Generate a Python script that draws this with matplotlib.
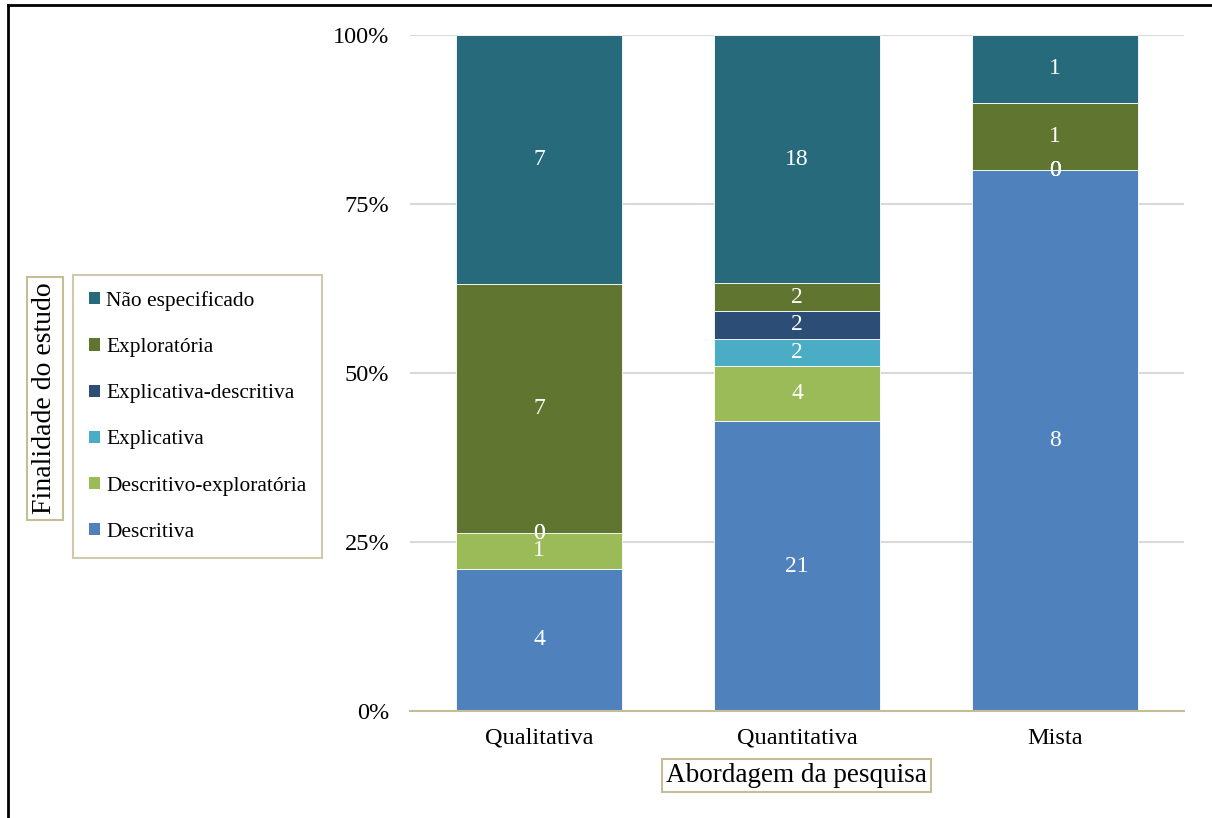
import matplotlib
matplotlib.use("Agg")
import matplotlib.pyplot as plt
from matplotlib.patches import Patch
from matplotlib.lines import Line2D
import numpy as np

plt.rcParams['font.family'] = ['Liberation Serif', 'DejaVu Serif']

categories = ["Qualitativa", "Quantitativa", "Mista"]
series_names = ["Descritiva", "Descritivo-exploratória", "Explicativa",
                "Explicativa-descritiva", "Exploratória", "Não especificado"]
descritiva = [4, 21, 8]
descritivo_exploratoria = [1, 4, 0]
explicativa = [0, 2, 0]
explicativa_descritiva = [0, 2, 0]
exploratoria = [7, 2, 1]
nao_especificado = [7, 18, 1]
colors = ["#4f81bd", "#9bbb59", "#4bacc6", "#2c4d75", "#5f7530", "#276a7c"]
yticks = [0, 25, 50, 75, 100]
ytick_labels = ["0%", "25%", "50%", "75%", "100%"]

data = np.array([descritiva, descritivo_exploratoria, explicativa,
                 explicativa_descritiva, exploratoria, nao_especificado], dtype=float)
totals = data.sum(axis=0)
pct = data / totals * 100

fig = plt.figure(figsize=(12.12, 8.18), dpi=100)
ax = fig.add_axes([410/1212, 1-711/818, 774/1212, 676/818])

x = np.arange(len(categories))
bottom = np.zeros(len(categories))
for i, name in enumerate(series_names):
    ax.bar(x, pct[i], bottom=bottom, width=0.643, color=colors[i], label=name,
           edgecolor='white', linewidth=0.6, zorder=3)
    for j in range(len(categories)):
        ax.text(x[j], bottom[j] + pct[i][j] / 2, f"{int(data[i][j])}",
                ha='center', va='center', color='white', fontsize=17, zorder=4)
    bottom += pct[i]

ax.set_xlim(-0.5, 2.5)
ax.set_ylim(0, 100)
ax.set_yticks(yticks)
ax.set_yticklabels(ytick_labels, fontsize=17.5)
ax.set_xticks(x)
ax.set_xticklabels(categories, fontsize=17.5)
ax.tick_params(axis='both', length=0)
ax.tick_params(axis='y', pad=15)
ax.tick_params(axis='x', pad=12)
ax.yaxis.grid(True, color='#d9d9d9', linewidth=1.5, zorder=0)
ax.set_axisbelow(True)
for s in ['top', 'right', 'left']:
    ax.spines[s].set_visible(False)
ax.spines['bottom'].set_color('#c4bd97')
ax.spines['bottom'].set_linewidth(1.5)
ax.spines['bottom'].set_zorder(5)

# Axis titles with boxes
fig.text(796/1212, 1-775.5/818, "Abordagem da pesquisa", ha='center', va='center',
         fontsize=19.5,
         bbox=dict(boxstyle='square,pad=0.15', facecolor='white', edgecolor='#c4bd97', linewidth=1.5))
fig.text(45/1212, 1-398.5/818, "Finalidade do estudo", ha='center', va='center',
         rotation=90, fontsize=20,
         bbox=dict(boxstyle='square,pad=0.2', facecolor='white', edgecolor='#c4bd97', linewidth=1.5))

# Legend
handles = [Patch(facecolor=colors[i], edgecolor='none', label=series_names[i])
           for i in range(len(series_names))][::-1]
leg = fig.legend(handles=handles, loc='upper left',
                 bbox_to_anchor=(73/1212, 1-275/818), frameon=True, fancybox=False,
                 fontsize=15.4, handlelength=0.5, handleheight=0.5, handletextpad=0.3,
                 labelspacing=1.27, borderpad=0.75, borderaxespad=0)
leg.get_frame().set_edgecolor('#c4bd97')
leg.get_frame().set_linewidth(1.5)

# Outer frame (top and left lines)
fig.add_artist(Line2D([8/1212, 1.0], [1-5/818, 1-5/818], transform=fig.transFigure,
                      color='black', linewidth=2))
fig.add_artist(Line2D([8/1212, 8/1212], [0, 1-5/818], transform=fig.transFigure,
                      color='black', linewidth=2))

fig.savefig("out.png", dpi=100)
